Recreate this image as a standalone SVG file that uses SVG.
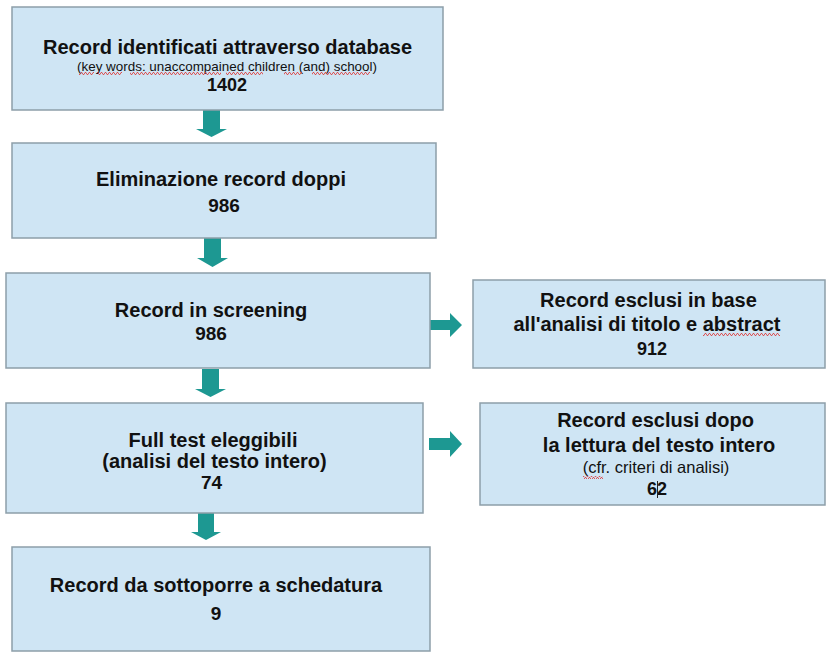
<svg xmlns="http://www.w3.org/2000/svg" width="826" height="654" viewBox="0 0 826 654">
  <style>
    .box { fill: #cfe5f4; stroke: #8d9ea9; stroke-width: 1.5; }
    .t { font-family: "Liberation Sans", Arial, sans-serif; fill: #111; text-anchor: middle; }
    .b { font-weight: bold; font-size: 20px; }
    .n { font-weight: bold; font-size: 19px; }
    .s { font-weight: normal; font-size: 13px; }
    .c { font-weight: normal; font-size: 16.5px; }
    .arrow { fill: #1d9892; }
    .sq { fill: url(#squig); }
  </style>
  <defs>
    <pattern id="squig" width="4" height="3" patternUnits="userSpaceOnUse">
      <path d="M0,2.5 L1,0.5 L2,0.5 L3,2.5 L4,2.5" fill="none" stroke="#d33" stroke-width="0.8"/>
    </pattern>
  </defs>
  <rect width="826" height="654" fill="#ffffff"/>

  <g id="connectors">
    <polygon class="arrow" points="203,110 220,110 220,129 227,129 211.5,137 196,129 203,129"/>
    <polygon class="arrow" points="204,238 221,238 221,258 228,258 212.5,267 197,258 204,258"/>
    <polygon class="arrow" points="202,369 219,369 219,389 226,389 210.5,397 195,389 202,389"/>
    <polygon class="arrow" points="198,513 214,513 214,532 221,532 206,540 191,532 198,532"/>
    <polygon class="arrow" points="430,320 450,320 450,313 462,325 450,337 450,330 430,330"/>
    <polygon class="arrow" points="429,438 450,438 450,431 462,444 450,457 450,450 429,450"/>
  </g>

  <g id="node1">
    <rect class="box" x="12" y="7" width="431" height="103"/>
    <text class="t b" x="227.5" y="54">Record identificati attraverso database</text>
    <text class="t s" x="227" y="71" textLength="300" lengthAdjust="spacingAndGlyphs">(key words: unaccompained children (and) school)</text>
    <rect class="sq" x="79" y="72" width="15" height="3"/>
    <rect class="sq" x="97" y="72" width="25" height="3"/>
    <rect class="sq" x="130" y="72" width="91" height="3"/>
    <rect class="sq" x="226" y="72" width="37" height="3"/>
    <rect class="sq" x="284" y="72" width="18" height="3"/>
    <rect class="sq" x="312" y="72" width="58" height="3"/>
    <text class="t n" x="227" y="91" style="font-size:18px">1402</text>
  </g>

  <g id="node2">
    <rect class="box" x="12" y="143" width="424" height="95"/>
    <text class="t b" x="221" y="186">Eliminazione record doppi</text>
    <text class="t n" x="224" y="212">986</text>
  </g>

  <g id="node3">
    <rect class="box" x="6" y="273" width="424" height="95"/>
    <text class="t b" x="211" y="317">Record in screening</text>
    <text class="t n" x="211" y="340">986</text>
  </g>

  <g id="node4">
    <rect class="box" x="473" y="280" width="352" height="88"/>
    <text class="t b" x="648.5" y="307">Record esclusi in base</text>
    <text class="t b" x="647" y="331">all'analisi di titolo e abstract</text>
    <rect class="sq" x="703" y="333" width="77" height="3"/>
    <text class="t n" x="652" y="355" style="font-size:18px">912</text>
  </g>

  <g id="node5">
    <rect class="box" x="6" y="403" width="417" height="110"/>
    <text class="t b" x="213" y="447">Full test eleggibili</text>
    <text class="t b" x="214.5" y="468">(analisi del testo intero)</text>
    <text class="t n" x="211.5" y="489">74</text>
  </g>

  <g id="node6">
    <rect class="box" x="480" y="403" width="345" height="102"/>
    <text class="t b" x="655.5" y="427">Record esclusi dopo</text>
    <text class="t b" x="659" y="452">la lettura del testo intero</text>
    <text class="t c" x="656" y="473">(cfr. criteri di analisi)</text>
    <rect class="sq" x="583" y="476" width="20" height="3"/>
    <text class="t n" x="657" y="495" style="font-size:18px">62</text>
    <line x1="657.5" y1="481" x2="657.5" y2="498" stroke="#222" stroke-width="1"/>
  </g>

  <g id="node7">
    <rect class="box" x="12" y="547" width="418" height="104"/>
    <text class="t b" x="216" y="592">Record da sottoporre a schedatura</text>
    <text class="t n" x="216" y="620">9</text>
  </g>
</svg>
